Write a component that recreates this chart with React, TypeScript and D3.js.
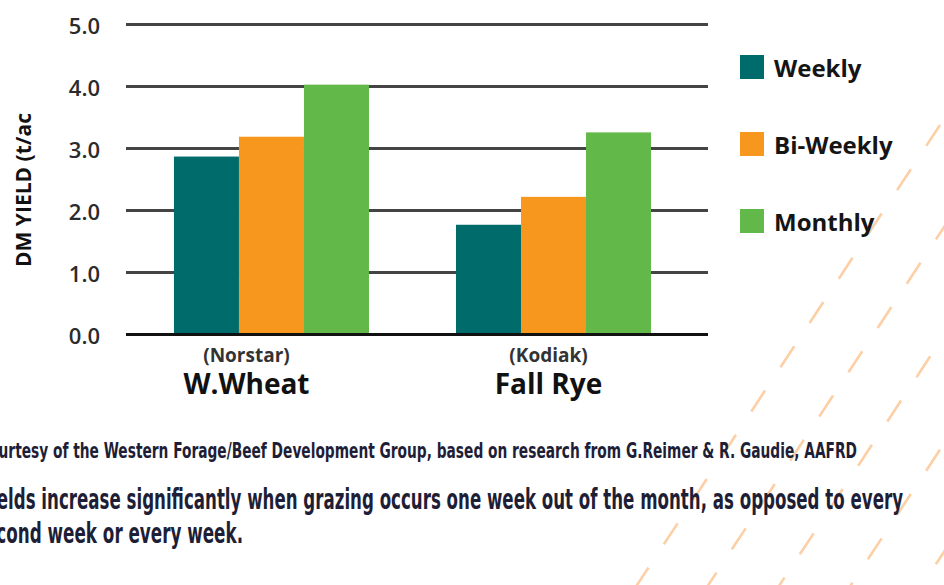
import * as d3 from 'd3';
import React from 'react';

// chart data
const categories = ['W.Wheat', 'Fall Rye'];
const varieties = ['(Norstar)', '(Kodiak)'];
const seriesNames = ['Weekly', 'Bi-Weekly', 'Monthly'];
const weekly = [2.87, 1.77];
const biWeekly = [3.19, 2.22];
const monthly = [4.03, 3.26];
const yTicks = [0, 1, 2, 3, 4, 5];
const colors = ['#006b6b', '#f7971e', '#62b94a'];

const sourceNote = 'Courtesy of the Western Forage/Beef Development Group, based on research from G.Reimer & R. Gaudie, AAFRD';
const captionLines = [
  'Yields increase significantly when grazing occurs one week out of the month, as opposed to every',
  'second week or every week.',
];

const W = 944;
const H = 585;
const FONT = '"Open Sans", "DejaVu Sans", sans-serif';
const NARROW = '"Liberation Sans Narrow", "DejaVu Sans Condensed", "Liberation Sans", sans-serif';

export default function App() {
  const values = [weekly, biWeekly, monthly];

  const y = d3.scaleLinear().domain([0, 5]).range([334.5, 24.5]);
  const x0 = d3.scaleBand<string>()
    .domain(categories)
    .range([126, 708])
    .paddingInner(0.3085)
    .paddingOuter(0.186)
    .align(0.457);
  const x1 = d3.scaleBand<string>()
    .domain(seriesNames)
    .range([0, x0.bandwidth()]);
  const fmt = d3.format('.1f');

  // category labels sit a little left of the bar groups
  const labelNudge = [-25, -5];

  // decorative dashed diagonals in the lower right
  const dir = [-0.55, 0.835];
  const deco = d3.range(0, 7).map(k => {
    const sx = 940 + 68 * k;
    const sy = 125 + 5 * k;
    return { x1: sx, y1: sy, x2: sx + dir[0] * 800, y2: sy + dir[1] * 800 };
  });

  return (
    <svg width={W} height={H} style={{ position: 'absolute', left: 0, top: 0, background: '#fff' }}>
      <g>
        {deco.map((d, i) => (
          <line key={i} x1={d.x1} y1={d.y1} x2={d.x2} y2={d.y2}
            stroke="#fdcfa6" strokeWidth={2.6} strokeDasharray="25 28" />
        ))}
      </g>

      {/* grid */}
      {yTicks.map(t => (
        <line key={t} x1={126} x2={708} y1={y(t)} y2={y(t)}
          stroke={t === 0 ? '#111' : '#444'} strokeWidth={3} />
      ))}

      {/* bars */}
      {categories.map((c, ci) => (
        <g key={c} transform={`translate(${x0(c)},0)`}>
          {seriesNames.map((s, si) => (
            <rect key={s} x={x1(s)} y={y(values[si][ci])} width={x1.bandwidth()}
              height={y(0) - y(values[si][ci]) - 1.5} fill={colors[si]} />
          ))}
        </g>
      ))}

      {/* y tick labels */}
      {yTicks.map(t => (
        <text key={t} x={100} y={y(t)} textAnchor="end" dominantBaseline="central"
          fontFamily={FONT} fontWeight={600} fontSize={22} fill="#2b2b2b">{fmt(t)}</text>
      ))}

      <text transform="translate(31,190) rotate(-90)" textAnchor="middle"
        fontFamily={FONT} fontWeight={700} fontSize={21} fill="#111">DM YIELD (t/ac</text>

      {/* category labels */}
      {categories.map((c, ci) => {
        const cx = (x0(c) as number) + x0.bandwidth() / 2 + labelNudge[ci];
        return (
          <g key={c}>
            <text x={cx} y={362} textAnchor="middle" fontFamily={FONT} fontWeight={700}
              fontSize={19} fill="#333">{varieties[ci]}</text>
            <text x={cx} y={394} textAnchor="middle" fontFamily={FONT} fontWeight={700}
              fontSize={28} fill="#111">{c}</text>
          </g>
        );
      })}

      {/* legend */}
      {seriesNames.map((s, i) => (
        <g key={s} transform={`translate(740,${67 + i * 77})`}>
          <rect x={0} y={-12} width={24} height={24} fill={colors[i]} />
          <text x={34} y={0} dominantBaseline="central" fontFamily={FONT} fontWeight={700}
            fontSize={24} fill="#151515">{s}</text>
        </g>
      ))}

      {/* notes (cut off at the left edge, as in the source page) */}
      <text x={-21} y={458} textLength={878} lengthAdjust="spacingAndGlyphs"
        fontFamily={NARROW} fontWeight={700} fontSize={22} fill="#1e1e36">{sourceNote}</text>
      <text x={-21} y={509} textLength={924} lengthAdjust="spacingAndGlyphs"
        fontFamily={NARROW} fontWeight={700} fontSize={29} fill="#1e1e36">{captionLines[0]}</text>
      <text x={-25} y={543} textLength={268} lengthAdjust="spacingAndGlyphs"
        fontFamily={NARROW} fontWeight={700} fontSize={29} fill="#1e1e36">{captionLines[1]}</text>
    </svg>
  );
}
